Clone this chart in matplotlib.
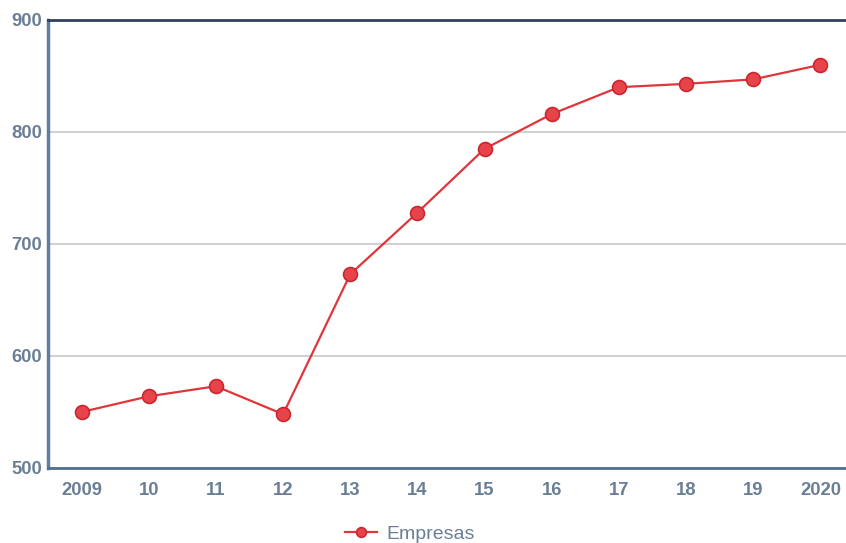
import matplotlib
matplotlib.use("Agg")
import matplotlib.pyplot as plt

years = ["2009", "10", "11", "12", "13", "14", "15", "16", "17", "18", "19", "2020"]
empresas = [550, 564, 573, 548, 673, 728, 785, 816, 840, 843, 847, 860]
y_ticks = [500, 600, 700, 800, 900]

W, H = 846, 543
fig = plt.figure(figsize=(W / 100, H / 100), dpi=100)
ax = fig.add_axes([48 / W, (H - 468) / H, (854 - 48) / W, (468 - 20) / H])

label_color = "#6a7f95"
x = list(range(len(years)))
line, = ax.plot(x, empresas, color="#e0353a", lw=1.6, marker="o", ms=10,
                mfc="#e8434a", mec="#c8282e", mew=1.2, label="Empresas", zorder=3)

ax.set_xlim(-0.5, len(years) - 0.5)
ax.set_ylim(500, 900)
ax.set_yticks(y_ticks)
ax.set_xticks(x)
ax.set_xticklabels(years)
ax.grid(axis="y", color="#c8c8c8", lw=1.2)
ax.set_axisbelow(True)

ax.spines["right"].set_visible(False)
ax.spines["top"].set_color("#2e405a")
ax.spines["top"].set_linewidth(2)
ax.spines["left"].set_color("#5f7f9e")
ax.spines["left"].set_linewidth(2.5)
ax.spines["bottom"].set_color("#4f6f8e")
ax.spines["bottom"].set_linewidth(2)

ax.tick_params(length=0, labelcolor=label_color)
ax.tick_params(axis="x", pad=10)
ax.tick_params(axis="y", pad=4.5)
for lab in ax.get_xticklabels() + ax.get_yticklabels():
    lab.set_fontfamily("Liberation Sans")
    lab.set_fontweight("bold")
    lab.set_fontsize(13.3)

leg = fig.legend(handles=[line], loc="center", bbox_to_anchor=(410 / W, 1 - 534 / H),
                 frameon=False, handlelength=1.6, handletextpad=0.5,
                 prop={"family": "Liberation Sans", "size": 14})
for h in leg.legend_handles:
    h.set_markersize(7)
for t in leg.get_texts():
    t.set_color(label_color)

fig.savefig("out.png", dpi=100)
